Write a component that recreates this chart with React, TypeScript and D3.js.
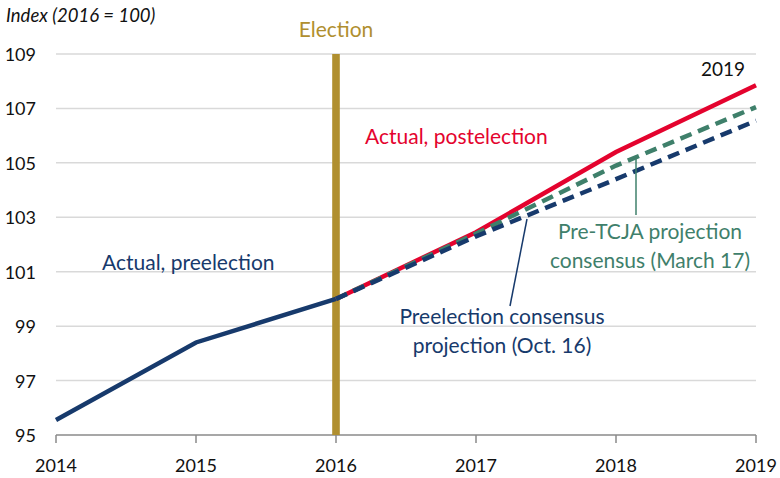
import React from "react";
import * as d3 from "d3";

const years = [2014, 2015, 2016, 2017, 2018, 2019];
const yTicks = [95, 97, 99, 101, 103, 105, 107, 109];
const preYears = [2014, 2015, 2016];
const preValues = [95.55, 98.4, 100];
const postYears = [2016, 2017, 2018, 2019];
const postValues = [100, 102.45, 105.4, 107.85];
const tcjaYears = [2016, 2017, 2018, 2019];
const tcjaValues = [100, 102.4, 104.9, 107.05];
const octYears = [2016, 2017, 2018, 2019];
const octValues = [100, 102.3, 104.4, 106.55];

const NAVY = "#173a6c";
const RED = "#e4032e";
const GREEN = "#3f806b";
const GOLD = "#b08f2f";
const FONT = "Lato, 'Open Sans', sans-serif";

export default function App() {
  const W = 780, H = 478;
  const x = d3.scaleLinear().domain([2014, 2019]).range([56, 756]);
  const y = d3.scaleLinear().domain([95, 109]).range([435, 54]);
  const line = (xs: number[], vs: number[]) =>
    d3.line<number>().x((_, i) => x(xs[i])).y((d) => y(d))(vs) || "";

  return (
    <svg width={W} height={H} style={{ position: "absolute", left: 0, top: 0, fontFamily: FONT }}>
      <rect width={W} height={H} fill="#fff" />
      <text x={6} y={22} fontSize={18.5} fontStyle="italic" fill="#111">Index (2016 = 100)</text>
      {yTicks.map((t) => (
        <g key={t}>
          {t !== 95 && (
            <line x1={56} x2={756} y1={y(t)} y2={y(t)} stroke="#d9d9d9" strokeWidth={1.5} />
          )}
          <text x={36} y={y(t) + 7} fontSize={18} textAnchor="end" fill="#111">{t}</text>
        </g>
      ))}
      <line x1={56} x2={756} y1={y(95)} y2={y(95)} stroke="#8a8a8a" strokeWidth={1.5} />
      {years.map((yr) => (
        <g key={yr}>
          <line x1={x(yr)} x2={x(yr)} y1={y(95)} y2={y(95) + 8} stroke="#8a8a8a" strokeWidth={1.5} />
          <text x={x(yr)} y={472} fontSize={18} textAnchor="middle" fill="#111">{yr}</text>
        </g>
      ))}
      <rect x={x(2016) - 3.8} y={y(109)} width={7.6} height={y(95) - y(109)} fill={GOLD} />
      <text x={x(2016)} y={37} fontSize={21} textAnchor="middle" fill={GOLD}>Election</text>

      <path d={line(preYears, preValues)} fill="none" stroke={NAVY} strokeWidth={4.5} />
      <path d={line(postYears, postValues)} fill="none" stroke={RED} strokeWidth={4.5} />
      <path d={line(tcjaYears, tcjaValues)} fill="none" stroke={GREEN} strokeWidth={4.5} strokeDasharray="12 7" />
      <path d={line(octYears, octValues)} fill="none" stroke={NAVY} strokeWidth={4.5} strokeDasharray="12 7" />

      <line x1={527} y1={219} x2={510} y2={306} stroke={NAVY} strokeWidth={1.5} />
      <line x1={636} y1={157} x2={636} y2={215} stroke={GREEN} strokeWidth={1.5} />

      <text x={745} y={76} fontSize={19} textAnchor="end" fill="#111">2019</text>
      <text x={365} y={144} fontSize={21} fill={RED}>Actual, postelection</text>
      <text x={102} y={270} fontSize={21} fill={NAVY}>Actual, preelection</text>
      <text x={502} y={324} fontSize={21} textAnchor="middle" fill={NAVY}>Preelection consensus</text>
      <text x={502} y={353} fontSize={21} textAnchor="middle" fill={NAVY}>projection (Oct. 16)</text>
      <text x={650} y={239} fontSize={21} textAnchor="middle" fill={GREEN}>Pre-TCJA projection</text>
      <text x={650} y={268} fontSize={21} textAnchor="middle" fill={GREEN}>consensus (March 17)</text>
    </svg>
  );
}
